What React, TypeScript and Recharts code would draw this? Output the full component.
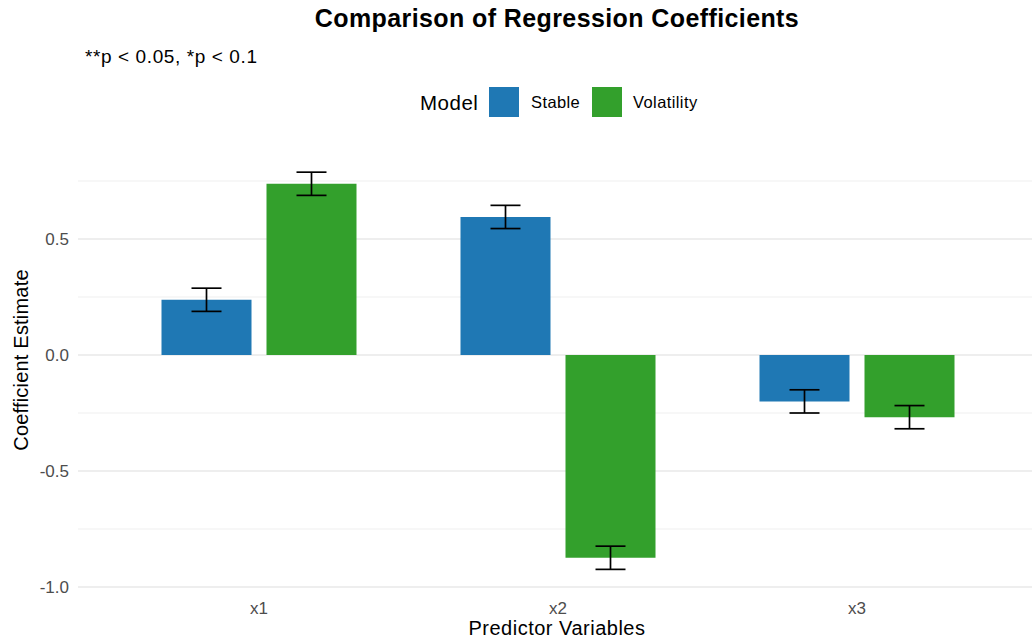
import React from 'react';
import { BarChart, Bar, XAxis, YAxis, CartesianGrid, ErrorBar } from 'recharts';

const categories = ['x1', 'x2', 'x3'];
const stableValues = [0.238, 0.595, -0.2];
const volatilityValues = [0.738, -0.874, -0.268];
const stableErrors = [0.05, 0.05, 0.05];
const volatilityErrors = [0.05, 0.05, 0.05];
const majorTicks = [-1, -0.5, 0, 0.5];
const minorTicks = [-0.75, -0.25, 0.25, 0.75];
const seriesNames = ['Stable', 'Volatility'];
const seriesColors = ['#1F78B4', '#33A02C'];

const data = categories.map((c, i) => ({
  cat: c,
  stable: stableValues[i],
  stableErr: stableErrors[i],
  vol: volatilityValues[i],
  volErr: volatilityErrors[i],
}));

const FONT = '"Liberation Sans", Arial, Helvetica, sans-serif';
const W = 1032;
const H = 644;

export default function App() {
  return (
    <div style={{ position: 'absolute', left: 0, top: 0, width: W, height: H, background: '#fff', fontFamily: FONT }}>
      <BarChart
        width={W}
        height={H}
        data={data}
        margin={{ top: 129, right: 0, bottom: 24, left: 18 }}
        barSize={90}
        barGap={15}
      >
        <CartesianGrid vertical={false} horizontalValues={minorTicks} stroke="#efefef" strokeWidth={1} />
        <CartesianGrid vertical={false} horizontalValues={majorTicks} stroke="#e8e8e8" strokeWidth={1.5} />
        <XAxis
          dataKey="cat"
          height={30}
          padding={{ left: 31.5, right: 25.5 }}
          tickLine={false}
          axisLine={false}
          tickSize={0}
          tickMargin={12}
          tick={{ fill: '#4d4d4d', fontSize: 17, fontFamily: FONT }}
        />
        <YAxis
          width={60}
          type="number"
          domain={[-1.0129, 0.9741]}
          allowDataOverflow
          ticks={majorTicks}
          tickFormatter={(v: number) => v.toFixed(1)}
          tickLine={false}
          axisLine={false}
          tickSize={0}
          tickMargin={9}
          tick={{ fill: '#4d4d4d', fontSize: 17, fontFamily: FONT }}
        />
        <Bar dataKey="stable" fill={seriesColors[0]} isAnimationActive={false}>
          <ErrorBar dataKey="stableErr" width={15} stroke="#000" strokeWidth={1.7} direction="y" />
        </Bar>
        <Bar dataKey="vol" fill={seriesColors[1]} isAnimationActive={false}>
          <ErrorBar dataKey="volErr" width={15} stroke="#000" strokeWidth={1.7} direction="y" />
        </Bar>
      </BarChart>
      <svg width={W} height={H} style={{ position: 'absolute', left: 0, top: 0, pointerEvents: 'none' }}>
        <text x={557} y={27} textAnchor="middle" fontSize={25} fontWeight="bold" letterSpacing={0.4} fill="#000" fontFamily={FONT}>
          Comparison of Regression Coefficients
        </text>
        <text x={85} y={63} fontSize={19} letterSpacing={0.6} fill="#000" fontFamily={FONT}>
          **p &lt; 0.05, *p &lt; 0.1
        </text>
        <text x={420} y={110} fontSize={20.5} letterSpacing={0.5} fill="#000" fontFamily={FONT}>Model</text>
        <rect x={489} y={87} width={30} height={30} fill={seriesColors[0]} />
        <text x={531} y={108} fontSize={16.5} letterSpacing={0.4} fill="#000" fontFamily={FONT}>{seriesNames[0]}</text>
        <rect x={592} y={87} width={30} height={30} fill={seriesColors[1]} />
        <text x={633} y={108} fontSize={16.5} letterSpacing={0.4} fill="#000" fontFamily={FONT}>{seriesNames[1]}</text>
        <text x={557} y={635} textAnchor="middle" fontSize={20} letterSpacing={0.5} fill="#000" fontFamily={FONT}>
          Predictor Variables
        </text>
        <text
          x={28}
          y={360}
          textAnchor="middle"
          fontSize={20}
          letterSpacing={0.2}
          fill="#000"
          fontFamily={FONT}
          transform="rotate(-90 28 360)"
        >
          Coefficient Estimate
        </text>
      </svg>
    </div>
  );
}
